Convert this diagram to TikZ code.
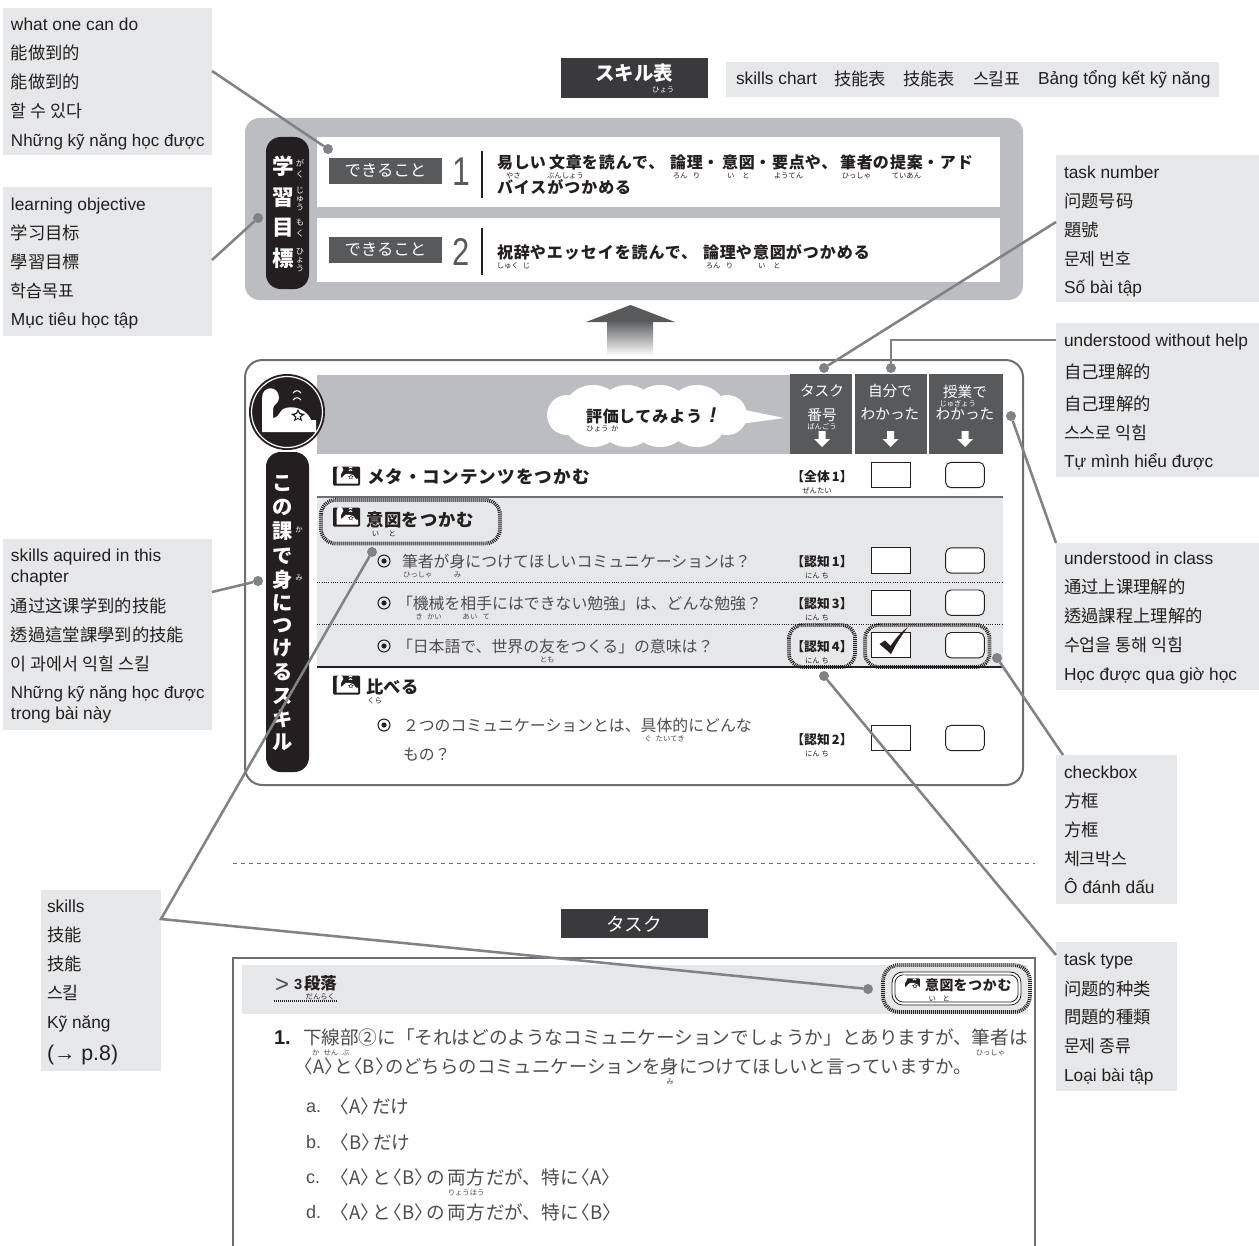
\documentclass[tikz,border=0pt]{standalone}
\usepackage{fontspec}
\setmainfont{Liberation Sans}
\newfontfamily\fJP{Noto Sans CJK JP}
\newfontfamily\fJL[LetterSpace=6]{Noto Sans CJK JP}
\newfontfamily\fSC{Noto Sans CJK SC}
\newfontfamily\fTC{Noto Sans CJK TC}
\newfontfamily\fKR{Noto Sans CJK KR}
\definecolor{boxgray}{HTML}{E6E7E8}
\definecolor{midgray}{HTML}{BCBDC0}
\definecolor{darkgray}{HTML}{58595B}
\definecolor{framegray}{HTML}{6D6E71}
\definecolor{conngray}{HTML}{808285}
\definecolor{inkgray}{HTML}{4D4D4F}
\definecolor{ink}{HTML}{231F20}
\definecolor{titlegray}{HTML}{3A3A3C}
\newbox\rbA \newbox\rbB \newbox\rbC
\newcommand\rdrop{.6em}
\newcommand\rb[2]{{\setbox\rbA=\hbox{#1}\setbox\rbB=\hbox{\fJP\mdseries\fontsize{5.5}{6}\selectfont #2}%
\setbox\rbC=\hbox to\wd\rbA{\hss\lower\rdrop\box\rbB\hss}\ht\rbC=0pt\dp\rbC=0pt\rlap{\box\rbC}\box\rbA}}
\newcommand\ang[1]{\kern-.45em〈#1〉\kern-.45em}
\newcommand\ango[1]{\kern-.38em〈#1〉\kern-.38em}
\newcommand\nin[1]{\renewcommand\rdrop{.9em}\kern-.45em【\rb{認知}{にん\kern1.5ptち}\,#1】\kern-.45em}
\tikzset{
 ht/.style 2 args={text height=#1pt,text depth=#2pt},
 tx/.style={inner sep=0pt,outer sep=0pt,anchor=west},
 txc/.style={tx,anchor=center},
 low/.style={yshift=-.75pt},
 lbl/.style={tx,ht={12}{2.6},text=ink,font=\fontsize{13}{15}\selectfont},
 anbox/.style={fill=boxgray,draw=none},
 body/.style={tx,low,ht={10.95}{2.38},text=inkgray,font=\fJP\fontsize{11.9}{14}\selectfont},
 qtext/.style={tx,low,ht={12.9}{2.8},text=inkgray,font=\fJP\fontsize{13.95}{16}\selectfont},
 opt/.style={tx,ht={12.4}{2.7},text=inkgray,font=\fontsize{13.5}{16}\selectfont},
 goal/.style={tx,low,ht={11}{2.4},text=ink,font=\fJL\bfseries\fontsize{12}{14}\selectfont},
 skillhead/.style={tx,low,ht={12}{2.6},text=ink,font=\fJL\bfseries\fontsize{13}{15}\selectfont},
 whitehead/.style={txc,low,ht={10.1}{2.2},text=white,font=\fJP\fontsize{11}{13}\selectfont},
 pillch/.style={txc,ht={14}{3},text=white,font=\fJP\bfseries\fontsize{15.2}{18}\selectfont},
 goalch/.style={txc,ht={14.9}{3.2},text=white,font=\fJP\bfseries\fontsize{16.2}{18}\selectfont},
 tasklbl/.style={txc,low,ht={8.8}{1.9},text=ink,font=\fJP\bfseries\fontsize{9.6}{11}\selectfont},
 hatch/.style={draw=ink,line width=2.8pt,dash pattern=on .75pt off .75pt,rounded corners=#1},
 conn/.style={draw=conngray,line width=1.9pt},
 cdot/.style={circle,fill=conngray,inner sep=0pt,minimum size=7.5pt,outer sep=0pt},
 plainbox/.style={draw=ink,line width=.7pt,fill=white},
 roundbox/.style={plainbox,rounded corners=4pt},
 bullet/.pic={\draw[ink,line width=.8pt] (0,0) circle (6); \fill[ink] (0,0) circle (2.6);},
 iconshape/.pic={
  \fill[white] (-25,20) -- (-25,-14) .. controls (-25,-27) and (-8,-27) .. (-8,-14) .. controls (-8,-8) and (-14,-8) .. (-14,-3) -- (-14,6) .. controls (-10,6) and (-8,2) .. (-6,-1) .. controls (-2,-7) and (18,-7) .. (24,8) -- (29,8) -- (29,20) -- cycle;
  \draw[white,line width=.8pt] (6,-19) .. controls (8,-22) and (12,-22) .. (14,-19);
  \draw[white,line width=.8pt] (6,-12) .. controls (8,-15) and (12,-15) .. (14,-12);
  \fill[ink] (11,-3) -- (13,1) -- (18,2) -- (14,5) -- (15,9) -- (11,7) -- (7,9) -- (8,5) -- (4,2) -- (9,1) -- cycle;
  \fill[white] (11,0) -- (12,2) -- (14.5,3) -- (12.5,4.5) -- (13,7) -- (11,5.5) -- (9,7) -- (9.5,4.5) -- (7.5,3) -- (10,2) -- cycle;
 },
 smallicon/.pic={
  \fill[ink,rounded corners=.8pt] (-13.5,-9.5) rectangle (13.5,9.5);
  \pic[scale=.4] at (0,-.5) {iconshape};
 },
}
\newcommand\lab[4]{\node[lbl] (#1) at (#2,#3) {#4};}
\newcommand\lc[4]{\node[lbl,low] (#1) at (#2,#3) {#4};}
\newcommand\downarr[2]{\fill[white] (#1-3.5,#2-7) -- (#1+3.5,#2-7) -- (#1+3.5,#2+1) -- (#1+8,#2+1) -- (#1,#2+9) -- (#1-8,#2+1) -- (#1-3.5,#2+1) -- cycle;}
\begin{document}
\begin{tikzpicture}[x=.75pt,y=-.75pt]
\useasboundingbox (0,0) rectangle (1259,1245);
\fill[white] (0,0) rectangle (1259,1245);

% annotation boxes
\fill[anbox] (3,8) rectangle (212,155);
\fill[anbox] (3,187) rectangle (212,336);
\fill[anbox] (3,539) rectangle (212,730);
\fill[anbox] (41,890) rectangle (161,1071);
\fill[anbox] (726,62) rectangle (1219,97);
\fill[anbox] (1056,155) rectangle (1259,302);
\fill[anbox] (1056,323) rectangle (1259,477);
\fill[anbox] (1056,543) rectangle (1259,690);
\fill[anbox] (1056,755) rectangle (1177,904);
\fill[anbox] (1056,942) rectangle (1177,1091);

\lab{a1}{11}{24}{what one can do}
\lc{a2}{11}{52}{\fSC 能做到的}
\lc{a3}{11}{81}{\fTC 能做到的}
\lc{a4}{11}{110}{\fKR 할 수 있다}
\lab{a5}{11}{140}{\fontsize{12.75}{15}\selectfont Những kỹ năng học được}
\lab{b1}{11}{204}{learning objective}
\lc{b2}{11}{232}{\fSC 学习目标}
\lc{b3}{11}{261}{\fTC 學習目標}
\lc{b4}{11}{290}{\fKR 학습목표}
\lab{b5}{11}{319}{Mục tiêu học tập}
\lab{c1}{11}{555}{skills aquired in this}
\lab{c1b}{11}{576}{chapter}
\lc{c2}{11}{605}{\fSC 通过这课学到的技能}
\lc{c3}{11}{634}{\fTC 透過這堂課學到的技能}
\lc{c4}{11}{663}{\fKR 이 과에서 익힐 스킬}
\lab{c5}{11}{692}{\fontsize{12.75}{15}\selectfont Những kỹ năng học được}
\lab{c5b}{11}{713}{trong bài này}
\lab{e1}{47}{906}{skills}
\lc{e2}{47}{934}{\fSC 技能}
\lc{e3}{47}{963}{\fTC 技能}
\lc{e4}{47}{992}{\fKR 스킬}
\lab{e5}{47}{1022}{Kỹ năng}
\node[lbl,ht={14.7}{3.2},font=\fontsize{16}{18}\selectfont] (e6) at (47,1053) {(→ p.8)};
\lab{f1}{736}{78}{skills chart}
\lc{f2}{834}{78}{\fSC 技能表}
\lc{f3}{903}{78}{\fTC 技能表}
\lc{f4}{973}{78}{\fKR 스킬표}
\lab{f5}{1038}{78}{Bảng tổng kết kỹ năng}
\lab{g1}{1064}{172}{task number}
\lc{g2}{1064}{200}{\fSC 问题号码}
\lc{g3}{1064}{229}{\fTC 題號}
\lc{g4}{1064}{258}{\fKR 문제 번호}
\lab{g5}{1064}{287}{Số bài tập}
\lab{h1}{1064}{340}{understood without help}
\lc{h2}{1064}{371}{\fSC 自己理解的}
\lc{h3}{1064}{403}{\fTC 自己理解的}
\lc{h4}{1064}{432}{\fKR 스스로 익힘}
\lab{h5}{1064}{461}{Tự mình hiểu được}
\lab{i1}{1064}{558}{understood in class}
\lc{i2}{1064}{586}{\fSC 通过上课理解的}
\lc{i3}{1064}{615}{\fTC 透過課程上理解的}
\lc{i4}{1064}{644}{\fKR 수업을 통해 익힘}
\lab{i5}{1064}{674}{Học được qua giờ học}
\lab{j1}{1064}{772}{checkbox}
\lc{j2}{1064}{800}{\fSC 方框}
\lc{j3}{1064}{829}{\fTC 方框}
\lc{j4}{1064}{858}{\fKR 체크박스}
\lab{j5}{1064}{887}{Ô đánh dấu}
\lab{k1}{1064}{959}{task type}
\lc{k2}{1064}{988}{\fSC 问题的种类}
\lc{k3}{1064}{1016}{\fTC 問題的種類}
\lc{k4}{1064}{1045}{\fKR 문제 종류}
\lab{k5}{1064}{1075}{Loại bài tập}

% title
\fill[titlegray] (561,58) rectangle (708,98);
\node[txc,ht={13.4}{2.9},text=white,font=\fJP\bfseries\fontsize{14.6}{16}\selectfont] (title) at (634,74) {スキル\rb{表}{ひょう}};

% top panel
\fill[midgray,rounded corners=11pt] (245,118) rectangle (1023,300);
\fill[white] (317,137) rectangle (1000,207);
\fill[white] (317,218) rectangle (1000,282);
\fill[ink,rounded corners=11pt] (266,137) rectangle (309,289);
\node[goalch] (g1c) at (283,167) {学};
\node[goalch] (g2c) at (283,198) {習};
\node[goalch] (g3c) at (283,228) {目};
\node[goalch] (g4c) at (283,259) {標};
\node[text=white,inner sep=0pt,align=center,font=\fJP\fontsize{6.2}{8.2}\selectfont] (g1r) at (300,169) {が\\く};
\node[text=white,inner sep=0pt,align=center,font=\fJP\fontsize{6.2}{6.4}\selectfont] (g2r) at (300,199) {じ\\ゅ\\う};
\node[text=white,inner sep=0pt,align=center,font=\fJP\fontsize{6.2}{8.2}\selectfont] (g3r) at (300,228) {も\\く};
\node[text=white,inner sep=0pt,align=center,font=\fJP\fontsize{6.2}{6.4}\selectfont] (g4r) at (300,260) {ひ\\ょ\\う};
\fill[darkgray] (329,158) rectangle (442,184);
\fill[darkgray] (329,237) rectangle (442,263);
\node[txc,ht={11.3}{2.5},text=white,font=\fJP\fontsize{12.3}{14}\selectfont] (can1) at (385.5,171) {できること};
\node[txc,ht={11.3}{2.5},text=white,font=\fJP\fontsize{12.3}{14}\selectfont] (can2) at (385.5,250) {できること};
\node[inner sep=0pt,text=darkgray] (n1) at (461,171.5) {\scalebox{.8}[1]{\fontsize{30}{32}\selectfont 1}};
\node[inner sep=0pt,text=darkgray] (n2) at (461,251.5) {\scalebox{.8}[1]{\fontsize{29}{32}\selectfont 2}};
\draw[ink,line width=.8pt] (482,151) -- (482,198);
\draw[ink,line width=.8pt] (482,228) -- (482,275);
\node[goal] (go1a) at (497,162) {\rb{易し}{やさ}い};
\node[goal] (go1b) at (549,162) {\rb{文章}{ぶんしょう}を読んで、};
\node[goal] (go1c) at (670,162) {\rb{論理}{ろん\kern4ptり}・};
\node[goal] (go1d) at (722,162) {\rb{意図}{い\kern6ptと}・};
\node[goal] (go1e) at (772,162) {\rb{要点}{ようてん}や、};
\node[goal] (go1f) at (840,162) {\rb{筆者}{ひっしゃ}の};
\node[goal] (go1g) at (890,162) {\rb{提案}{ていあん}・アド};
\node[goal] (go2) at (497,187) {バイスがつかめる};
\node[goal] (go3a) at (497,252) {\rb{祝辞}{しゅく\kern3ptじ}やエッセイを読んで、};
\node[goal] (go3b) at (703,252) {\rb{論理}{ろん\kern4ptり}や};
\node[goal] (go3c) at (753,252) {\rb{意図}{い\kern6ptと}がつかめる};

% big arrow
\shade[top color=darkgray,bottom color=white] (607,320) rectangle (653,356);
\fill[darkgray] (586,322) -- (630.5,305) -- (675,322) -- cycle;

% main panel
\draw[framegray,line width=1.5pt,fill=white,rounded corners=13pt] (245,360) rectangle (1023,785);
\fill[midgray] (317,375) rectangle (790,454);
\fill[darkgray] (790,374) rectangle (852,454);
\fill[darkgray] (855,374) rectangle (926.5,454);
\fill[darkgray] (929,374) rectangle (1003,454);
\node[whitehead] (th1) at (822,390) {タスク};
\node[whitehead] (th2) at (822,414) {\rb{番号}{ばんごう}};
\node[whitehead] (th3) at (890,390) {自分で};
\node[whitehead] (th4) at (890,413) {わかった};
\node[whitehead] (th5) at (965,391) {\rb{授業}{じゅぎょう}で};
\node[whitehead] (th6) at (965,413) {わかった};
\downarr{822}{438}
\downarr{890.5}{438}
\downarr{965}{438}

% cloud
\fill[white] (567,415) circle (20) (593,416) circle (31) (627,416) circle (31) (660,416) circle (31) (697,416) circle (31) (727,415) circle (20);
\fill[white] (740,409) -- (784,418) -- (740,424) -- cycle;
\node[tx,ht={11}{2.4},text=ink,font=\fJL\bfseries\fontsize{12}{14}\selectfont] (eval) at (586,416.5) {\rb{評価}{ひょう\kern2ptか}してみよう};
\node[txc,ht={14.7}{3.2},text=ink,font=\fontsize{16}{18}\bfseries\itshape\selectfont] (excl) at (713,415) {!};

% round icon
\fill[ink] (287,412) circle (38);
\draw[white,line width=.9pt] (287,412) circle (35.5);
\pic at (287,412) {iconshape};

% left pill
\fill[ink,rounded corners=11pt] (266,452) rectangle (309,772);
\node[pillch] (s1) at (283,483) {こ};
\node[pillch] (s2) at (283,507) {の};
\node[pillch] (s3) at (283,531) {課};
\node[pillch] (s4) at (283,556) {で};
\node[pillch] (s5) at (283,580) {身};
\node[pillch] (s6) at (283,603) {に};
\node[pillch] (s7) at (283,625) {つ};
\node[pillch] (s8) at (283,648) {け};
\node[pillch] (s9) at (283,672) {る};
\node[pillch] (s10) at (283,696) {ス};
\node[pillch] (s11) at (283,719) {キ};
\node[pillch] (s12) at (283,742) {ル};
\node[text=white,inner sep=0pt,font=\fJP\fontsize{5.5}{6}\selectfont] (s3r) at (299,530) {か};
\node[text=white,inner sep=0pt,font=\fJP\fontsize{5.5}{6}\selectfont] (s5r) at (299,578) {み};

% rows
\fill[boxgray] (317,497) rectangle (1003,667);
\draw[framegray,line width=1.5pt] (317,497) -- (1003,497);
\draw[ink,line width=.8pt] (317,667) -- (1003,667);
\draw[ink,line width=.7pt,densely dotted] (317,582) -- (1003,582);
\draw[ink,line width=.7pt,densely dotted] (317,624) -- (1003,624);
\pic at (346.5,476) {smallicon};
\pic at (346.5,517) {smallicon};
\pic at (346.5,685) {smallicon};
\node[skillhead,ht={12.1}{2.6},font=\fJL\bfseries\fontsize{13.2}{15}\selectfont] (h0) at (367,476) {メタ・コンテンツをつかむ};
\node[skillhead] (hh1) at (366,519) {\rb{意図}{い\kern7ptと}をつかむ};
\node[skillhead] (hh2) at (366,686) {\rb{比}{くら}べる};
\draw[hatch=11pt] (321,500) rectangle (500,543.5);
\pic at (384,561) {bullet};
\pic at (384,603) {bullet};
\pic at (384,646) {bullet};
\pic at (384,725) {bullet};
\node[body] (r1) at (402,561) {\rb{筆者}{ひっしゃ}が\rb{身}{み}につけてほしいコミュニケーションは？};
\node[body] (r2) at (397,603) {「\rb{機械}{き\kern3ptかい}を\rb{相手}{あい\kern4ptて}にはできない勉強」は、どんな勉強？};
\node[body] (r3) at (397,646) {「日本語で、世界の\rb{友}{とも}をつくる」の意味は？};
\node[body] (r4) at (403,725) {２つのコミュニケーションとは、\rb{具体的}{ぐ\kern3ptたいてき}にどんな};
\node[body] (r4b) at (403,754) {もの？};

% task labels
\node[tasklbl] (t0) at (822,476) {\renewcommand\rdrop{.9em}\kern-.45em【\rb{全体}{ぜんたい}\,1】\kern-.45em};
\node[tasklbl] (t1) at (822,561) {\nin{1}};
\node[tasklbl] (t2) at (822,603) {\nin{3}};
\node[tasklbl] (t3) at (822,646) {\nin{4}};
\node[tasklbl] (t4) at (822,739) {\nin{2}};

% checkboxes
\foreach \yy in {475,560.5,602.7,645.2,738} {
  \draw[plainbox] (871.5,\yy-12.7) rectangle (910,\yy+12.7);
  \draw[roundbox] (945.7,\yy-12.7) rectangle (984.3,\yy+12.7);
}
\fill[ink] (879.5,644) -- (885,640.5) -- (890.5,646) .. controls (896,638) and (901,632) .. (908,627) .. controls (901,636) and (896,644) .. (891,654) -- cycle;
\draw[hatch=10pt] (789,625) rectangle (855,667);
\draw[hatch=10pt] (865,625) rectangle (989.5,667);

% dashed line
\draw[framegray,line width=.7pt,dashed] (233,863) -- (1035,863);

% task section
\fill[titlegray] (561,909) rectangle (708,938);
\node[txc,ht={12.9}{2.8},text=white,font=\fJP\fontsize{14}{16}\selectfont] (task) at (634,925) {タスク};
\fill[boxgray] (242,965) rectangle (1028,1014);
\draw[framegray,line width=1.1pt] (233,1246) -- (233,958) -- (1035,958) -- (1035,1246);
\node[tx,ht={16.6}{3.6},text=inkgray,font=\fontsize{18}{20}\selectfont] (gt) at (275,984) {>};
\node[tx,ht={10.1}{2.2},text=ink,font=\fontsize{11}{13}\bfseries\selectfont] (par3) at (294,984) {3};
\node[tx,ht={11.3}{2.5},text=ink,font=\fJP\bfseries\fontsize{12.3}{14}\selectfont] (par) at (304,984) {\rb{段落}{だんらく}};
\draw[ink,line width=2.2pt,dash pattern=on .75pt off .75pt] (274,1001) -- (338,1001);
\node[tx,ht={13.8}{3},text=ink,font=\fontsize{15}{18}\bfseries\selectfont] (q1) at (274,1037) {1.};
\node[qtext] (q2) at (303,1037) {\rb{下線部}{か\kern3ptせん\kern3ptぶ}②に「それはどのようなコミュニケーションでしょうか」とありますが、\rb{筆者}{ひっしゃ}は};
\node[qtext,font=\fJP\fontsize{13.8}{16}\selectfont] (q3) at (303,1066) {\ang{A}と\ang{B}のどちらのコミュニケーションを\rb{身}{み}につけてほしいと言っていますか。};
\node[opt] (oa) at (306,1106) {a.};
\node[opt] (ob) at (306,1142) {b.};
\node[opt] (oc) at (306,1177) {c.};
\node[opt] (od) at (306,1212) {d.};
\node[qtext] (oa2) at (338,1106) {\ango{A}だけ};
\node[qtext] (ob2) at (338,1142) {\ango{B}だけ};
\node[qtext] (oc2) at (338,1177) {\ango{A}と\ango{B}の\kern2pt\rb{両方}{りょうほう}\kern1ptだが、特に\ango{A}};
\node[qtext] (od2) at (338,1212) {\ango{A}と\ango{B}の\kern2pt両方\kern1ptだが、特に\ango{B}};

% tag
\draw[hatch=12pt,fill=none] (883,965) rectangle (1030,1012);
\draw[ink,line width=.6pt,fill=white,rounded corners=8pt] (892,972) rectangle (1021,1005);
\draw[ink,line width=.6pt,rounded corners=6pt] (895,975) rectangle (1018,1002);
\pic[scale=.7] at (910.5,985) {smallicon};
\node[tx,ht={9.6}{2.1},text=ink,font=\fJL\bfseries\fontsize{10.4}{12}\selectfont] (tag) at (925,985) {\renewcommand\rdrop{.8em}\rb{意図}{い\kern5ptと}をつかむ};

% connectors
\node[cdot] (d1) at (328,149) {};
\node[cdot] (d2) at (258,218) {};
\node[cdot] (d3) at (258,581) {};
\node[cdot] (d4a) at (372,552) {};
\node[cdot] (d4b) at (868,989) {};
\node[cdot] (d5) at (824,368) {};
\node[cdot] (d6) at (891,368) {};
\node[cdot] (d7) at (1011,416) {};
\node[cdot] (d8) at (997,658) {};
\node[cdot] (d9) at (824,676) {};
\coordinate (c1) at (212,71);
\coordinate (c2) at (212,260);
\coordinate (c3) at (212,592);
\coordinate (c4) at (161,919);
\coordinate (c5) at (1056,222);
\coordinate (c6) at (1056,340);
\coordinate (c6b) at (891,340);
\coordinate (c7) at (1056,543);
\coordinate (c8) at (1063,755);
\coordinate (c9) at (1056,955);
\draw[conn] (c1) -- (d1);
\draw[conn] (c2) -- (d2);
\draw[conn] (c3) -- (d3);
\draw[conn] (d4a) -- (c4) -- (d4b);
\draw[conn] (c5) -- (d5);
\draw[conn] (c6) -- (c6b) -- (d6);
\draw[conn] (c7) -- (d7);
\draw[conn] (c8) -- (d8);
\draw[conn] (c9) -- (d9);
\end{tikzpicture}
\end{document}
